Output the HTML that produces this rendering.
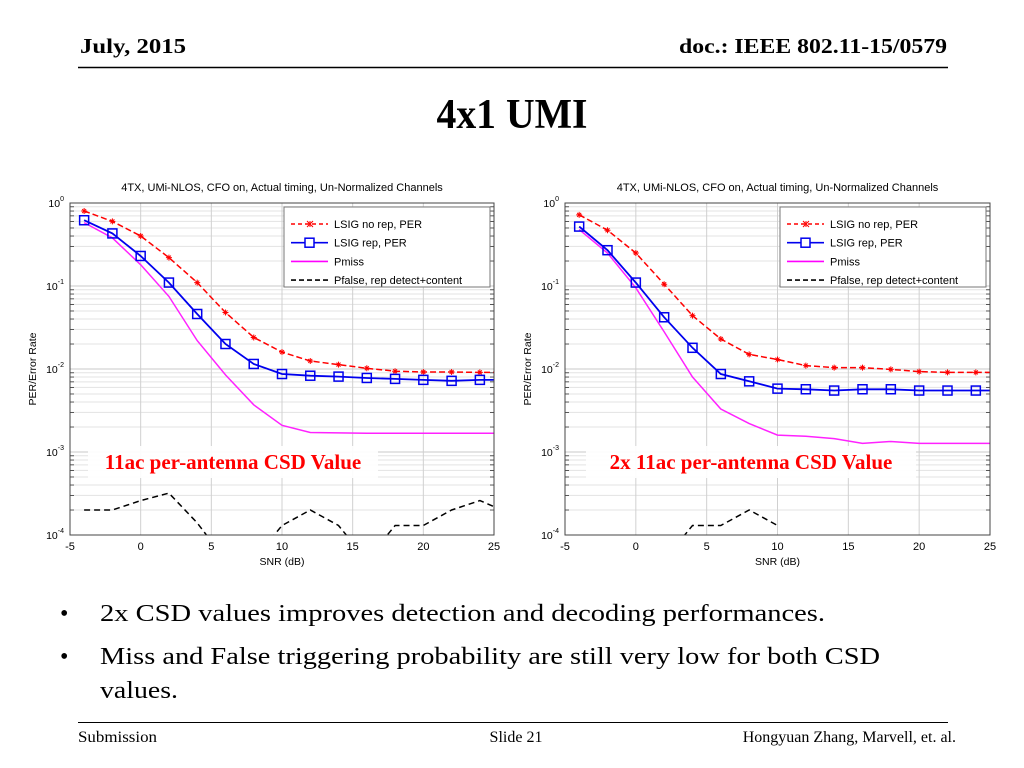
<!DOCTYPE html>
<html><head><meta charset="utf-8"><style>
html,body{margin:0;padding:0;background:#fff;}
svg{display:block;}
</style></head><body>
<svg id="page" width="1024" height="768" xmlns="http://www.w3.org/2000/svg" font-family="Liberation Serif, serif">
<text x="80" y="53" font-size="21" font-weight="bold" textLength="106" lengthAdjust="spacingAndGlyphs">July, 2015</text>
<text x="947" y="53" font-size="21" font-weight="bold" text-anchor="end" textLength="268" lengthAdjust="spacingAndGlyphs">doc.: IEEE 802.11-15/0579</text>
<line x1="78" y1="67.5" x2="948" y2="67.5" stroke="#000" stroke-width="1.5"/>
<text x="512" y="128" font-size="42" font-weight="bold" text-anchor="middle" textLength="151" lengthAdjust="spacingAndGlyphs">4x1 UMI</text>
<g id="charts"></g>
<g font-size="24">
<text x="60" y="621">•</text>
<text x="100" y="621" textLength="725" lengthAdjust="spacingAndGlyphs">2x CSD values improves detection and decoding performances.</text>
<text x="60" y="664">•</text>
<text x="100" y="664" textLength="780" lengthAdjust="spacingAndGlyphs">Miss and False triggering probability are still very low for both CSD</text>
<text x="100" y="698" textLength="78" lengthAdjust="spacingAndGlyphs">values.</text>
</g>
<line x1="78" y1="722.5" x2="948" y2="722.5" stroke="#000" stroke-width="1"/>
<text x="78" y="742" font-size="16" textLength="79" lengthAdjust="spacingAndGlyphs">Submission</text>
<text x="516" y="742" font-size="16" text-anchor="middle">Slide 21</text>
<text x="956" y="742" font-size="16" text-anchor="end">Hongyuan Zhang,  Marvell, et. al.</text>
</svg>
<script>
// ---- data ----
const snrPoints = [-4,-2,0,2,4,6,8,10,12,14,16,18,20,22,24];
const snrCurve = [-4,-2,0,2,4,6,8,10,12,14,16,18,20,22,24,25];
const xTicks = [-5,0,5,10,15,20,25];
const yTickExp = [0,-1,-2,-3,-4];
const leftNoRep = [0.8,0.6,0.4,0.22,0.11,0.048,0.024,0.016,0.0125,0.0113,0.0102,0.0094,0.0092,0.0092,0.0091];
const leftRep = [0.62,0.43,0.23,0.11,0.046,0.02,0.0115,0.0087,0.0083,0.0081,0.0078,0.0076,0.0074,0.0072,0.0074];
const leftMiss = [0.58,0.38,0.18,0.075,0.022,0.0085,0.0037,0.0021,0.00172,0.0017,0.00168,0.00168,0.00168,0.00168,0.00168,0.00168];
const leftFalse = [2e-4,2e-4,2.6e-4,3.2e-4,1.4e-4,5e-5,5e-5,1.3e-4,2e-4,1.3e-4,5e-5,1.3e-4,1.3e-4,2e-4,2.6e-4,2.2e-4];
const rightNoRep = [0.72,0.47,0.25,0.105,0.044,0.023,0.015,0.013,0.011,0.0104,0.0104,0.0099,0.0093,0.0091,0.0091];
const rightRep = [0.52,0.27,0.11,0.042,0.018,0.0087,0.0071,0.0058,0.0057,0.0055,0.0057,0.0057,0.0055,0.0055,0.0055];
const rightMiss = [0.48,0.25,0.095,0.028,0.008,0.0033,0.0022,0.0016,0.00155,0.00145,0.00127,0.00134,0.00127,0.00127,0.00127,0.00127];
const rightFalse = [null,null,null,5e-5,1.3e-4,1.3e-4,2e-4,1.3e-4,null,null,null,null,null,null,null,null];

const NS='http://www.w3.org/2000/svg';
const root=document.getElementById('charts');
function mk(tag,attrs,parent){const e=document.createElementNS(NS,tag);for(const k in attrs)e.setAttribute(k,attrs[k]);(parent||root).appendChild(e);return e;}

function chart(id,L,R,T,B,noRep,rep,miss,fals,label,labelBox,legX){
  const g=mk('g',{});
  
  
  const xs=v=>L+(v+5)/30*(R-L);
  const ys=v=>T+(-Math.log10(v))/4*(B-T);
  mk('rect',{x:L,y:T,width:R-L,height:B-T,fill:'#fff'},g);
  for(let d=0;d<4;d++){for(let m=2;m<10;m++){const y=ys(m*Math.pow(10,-d-1));
    const gl=mk('line',{x1:L,x2:R,y1:y,y2:y,stroke:'#e3e3e3','stroke-width':1},g);
    
    
    mk('line',{x1:L,x2:L+4,y1:y,y2:y,stroke:'#333','stroke-width':0.8},g);
    mk('line',{x1:R-4,x2:R,y1:y,y2:y,stroke:'#333','stroke-width':0.8},g);}}
  yTickExp.forEach(e=>{const y=ys(Math.pow(10,e));
    const gl=mk('line',{x1:L,x2:R,y1:y,y2:y,stroke:'#c8c8c8','stroke-width':1},g);
    
    
    const t=mk('text',{x:L-6,y:y+4,'font-size':10.5,'text-anchor':'end','font-family':'Liberation Sans, sans-serif'},g);
    t.textContent='10';
    
    
    const s=mk('tspan',{dy:-6,'font-size':7},t);s.textContent=String(e);
  });
  xTicks.forEach(v=>{const x=xs(v);
    const gl=mk('line',{x1:x,x2:x,y1:T,y2:B,stroke:'#d0d0d0','stroke-width':1},g);
    
    
    const t=mk('text',{x:x,y:B+15,'font-size':11,'text-anchor':'middle','font-family':'Liberation Sans, sans-serif'},g);
    t.textContent=String(v);
    
    
  });
  const clipId='clip-'+id;
  const cp=mk('clipPath',{id:clipId},g);mk('rect',{x:L,y:T,width:R-L,height:B-T},cp);
  const pg=mk('g',{'clip-path':'url(#'+clipId+')'},g);
  function line(xv,yv,attrs,name){let d='',pen=false;
    yv.forEach((v,i)=>{if(v==null){pen=false;return;}d+=(pen?'L':'M')+xs(xv[i]).toFixed(1)+' '+ys(v).toFixed(1);pen=true;});
    const p=mk('path',Object.assign({d:d,fill:'none'},attrs),pg);
    
    }
  line(snrCurve,miss,{stroke:'#ff22ff','stroke-width':1.5},'pmiss-line');
  line(snrCurve,fals,{stroke:'#000','stroke-width':1.5,'stroke-dasharray':'6 4'},'pfalse-line');
  line(snrPoints.concat([25]),noRep.concat([noRep[noRep.length-1]]),{stroke:'#ff0000','stroke-width':1.5,'stroke-dasharray':'6 3'},'no-rep-per-line');
  noRep.forEach((v,i)=>{const x=xs(snrPoints[i]),y=ys(v);
    const m=mk('path',{d:`M${x-3} ${y}H${x+3}M${x} ${y-3}V${y+3}M${x-2} ${y-2}L${x+2} ${y+2}M${x-2} ${y+2}L${x+2} ${y-2}`,stroke:'#ff0000','stroke-width':1},pg);
    
    });
  line(snrPoints.concat([25]),rep.concat([rep[rep.length-1]]),{stroke:'#0000ee','stroke-width':1.8},'rep-per-line');
  rep.forEach((v,i)=>{const x=xs(snrPoints[i]),y=ys(v);
    const m=mk('rect',{x:x-4.5,y:y-4.5,width:9,height:9,fill:'none',stroke:'#0000ee','stroke-width':1.5},pg);
    
    });
  mk('rect',{x:L,y:T,width:R-L,height:B-T,fill:'none',stroke:'#444','stroke-width':1},g);
  const tt=mk('text',{x:(L+R)/2,y:T-12,'font-size':11,'text-anchor':'middle','font-family':'Liberation Sans, sans-serif'},g);
  tt.textContent='4TX, UMi-NLOS, CFO on, Actual timing, Un-Normalized Channels';
  
  
  const xl=mk('text',{x:(L+R)/2,y:B+30,'font-size':10.5,'text-anchor':'middle','font-family':'Liberation Sans, sans-serif'},g);
  xl.textContent='SNR (dB)';
  
  
  const yl=mk('text',{x:0,y:0,'font-size':10.5,'text-anchor':'middle','font-family':'Liberation Sans, sans-serif',transform:`translate(${L-34},${(T+B)/2}) rotate(-90)`},g);
  yl.textContent='PER/Error Rate';
  
  
  const lg=mk('g',{},g);
  
  
  mk('rect',{x:legX,y:T+4,width:R-4-legX,height:80,fill:'#fff',stroke:'#777','stroke-width':1},lg);
  const ents=[['LSIG no rep, PER','#ff0000','4 3','x'],['LSIG rep, PER','#0000ee','','s'],['Pmiss','#ff00ff','',''],['Pfalse, rep detect+content','#000','5 3','']];
  ents.forEach((e,i)=>{const y=T+21+i*18.7;
    const le=mk('g',{},lg);
    
    
    mk('line',{x1:legX+7,x2:legX+44,y1:y,y2:y,stroke:e[1],'stroke-width':1.6,'stroke-dasharray':e[2]||'none'},le);
    if(e[3]==='s')mk('rect',{x:legX+21,y:y-4.5,width:9,height:9,fill:'#fff',stroke:e[1],'stroke-width':1.5},le);
    if(e[3]==='x')mk('path',{d:`M${legX+23} ${y-3}L${legX+29} ${y+3}M${legX+23} ${y+3}L${legX+29} ${y-3}M${legX+26} ${y-3}V${y+3}`,stroke:e[1],'stroke-width':1},le);
    const t=mk('text',{x:legX+50,y:y+4,'font-size':11,'font-family':'Liberation Sans, sans-serif'},le);t.textContent=e[0];});
  const ab=mk('rect',{x:labelBox[0],y:labelBox[1],width:labelBox[2],height:labelBox[3],fill:'#fff',opacity:0.92},g);
  
  
  const at=mk('text',{x:labelBox[0]+labelBox[2]/2,y:labelBox[1]+23,'font-size':21,'font-weight':'bold','fill':'#ff0000','text-anchor':'middle','font-family':'Liberation Serif, serif'},g);
  at.textContent=label;
  
  
}
chart('left-chart',70,494,203,535,leftNoRep,leftRep,leftMiss,leftFalse,'11ac per-antenna CSD Value',[88,446,290,32],284);
chart('right-chart',565,990,203,535,rightNoRep,rightRep,rightMiss,rightFalse,'2x 11ac per-antenna CSD Value',[586,446,330,32],780);
</script>
</body></html>
